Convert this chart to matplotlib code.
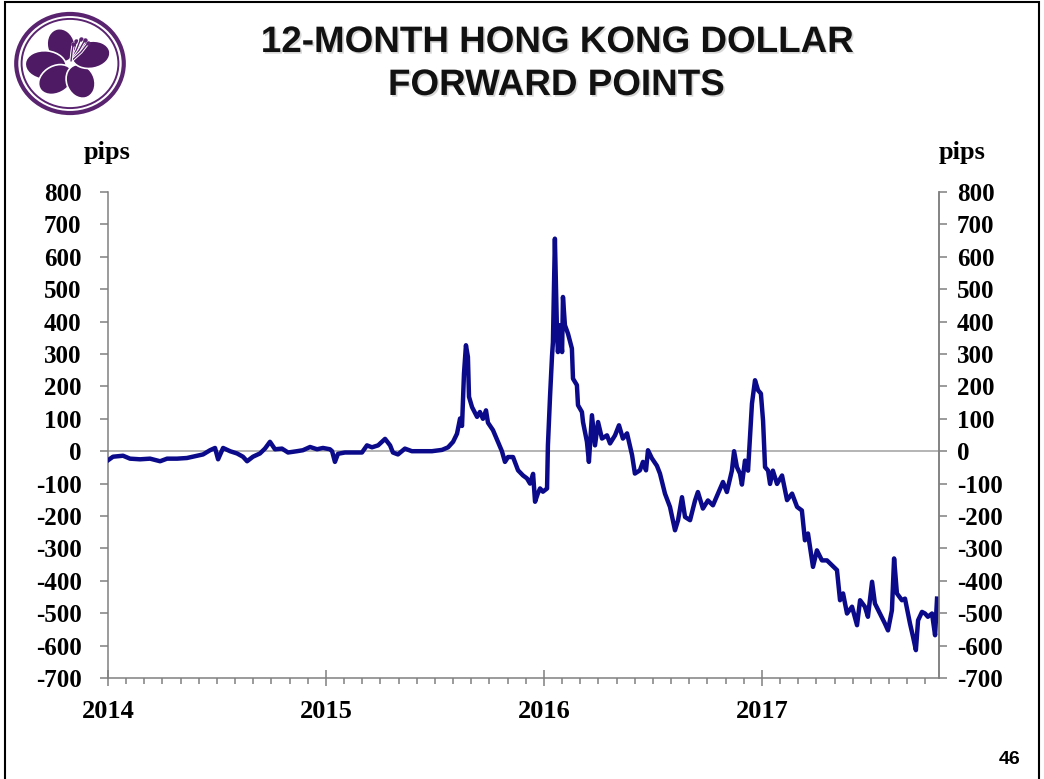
import numpy as np
import matplotlib
matplotlib.use("Agg")
import matplotlib.pyplot as plt
from matplotlib.patches import Ellipse, Circle, Rectangle
import matplotlib.patheffects as pe

# 12-month HKD forward points (decimal year, pips)
years = [
    2014.000, 2014.023, 2014.069, 2014.101, 2014.147, 2014.193, 2014.239, 2014.271,
    2014.317, 2014.362, 2014.408, 2014.436, 2014.468, 2014.491, 2014.505, 2014.528,
    2014.560, 2014.592, 2014.619, 2014.638, 2014.665, 2014.697, 2014.720, 2014.743,
    2014.766, 2014.798, 2014.826, 2014.867, 2014.894, 2014.927, 2014.959, 2014.986,
    2015.018, 2015.028, 2015.041, 2015.055, 2015.087, 2015.119, 2015.165, 2015.188,
    2015.211, 2015.239, 2015.271, 2015.294, 2015.307, 2015.330, 2015.362, 2015.394,
    2015.440, 2015.486, 2015.532, 2015.560, 2015.583, 2015.601, 2015.615, 2015.624,
    2015.633, 2015.642, 2015.651, 2015.656, 2015.670, 2015.693, 2015.706, 2015.720,
    2015.734, 2015.743, 2015.766, 2015.789, 2015.807, 2015.821, 2015.835, 2015.858,
    2015.881, 2015.904, 2015.922, 2015.936, 2015.950, 2015.959, 2015.972, 2015.982,
    2015.995, 2016.014, 2016.018, 2016.028, 2016.037, 2016.041, 2016.050, 2016.060,
    2016.064, 2016.073, 2016.083, 2016.087, 2016.096, 2016.110, 2016.128, 2016.133,
    2016.151, 2016.156, 2016.174, 2016.179, 2016.197, 2016.206, 2016.220, 2016.234,
    2016.248, 2016.266, 2016.289, 2016.303, 2016.326, 2016.344, 2016.362, 2016.381,
    2016.404, 2016.417, 2016.440, 2016.454, 2016.468, 2016.477, 2016.495, 2016.518,
    2016.532, 2016.555, 2016.578, 2016.601, 2016.615, 2016.633, 2016.647, 2016.670,
    2016.693, 2016.706, 2016.729, 2016.752, 2016.775, 2016.798, 2016.821, 2016.839,
    2016.862, 2016.872, 2016.885, 2016.899, 2016.908, 2016.922, 2016.936, 2016.945,
    2016.954, 2016.968, 2016.982, 2016.995, 2017.005, 2017.014, 2017.028, 2017.037,
    2017.050, 2017.069, 2017.092, 2017.115, 2017.138, 2017.161, 2017.183, 2017.197,
    2017.211, 2017.234, 2017.252, 2017.275, 2017.298, 2017.321, 2017.344, 2017.358,
    2017.372, 2017.390, 2017.413, 2017.436, 2017.450, 2017.472, 2017.486, 2017.505,
    2017.518, 2017.541, 2017.564, 2017.578, 2017.596, 2017.606, 2017.619, 2017.642,
    2017.656, 2017.679, 2017.693, 2017.706, 2017.716, 2017.734, 2017.748, 2017.761,
    2017.780, 2017.794, 2017.803,
]
pips = [
    -28, -17, -14, -23, -25, -23, -31, -23,
    -23, -21, -14, -10, 3, 10, -25, 10,
    0, -7, -17, -31, -17, -7, 8, 29,
    6, 8, -4, 0, 3, 13, 6, 10,
    6, 0, -33, -8, -4, -4, -4, 18,
    12, 18, 38, 18, -4, -10, 8, 0,
    0, 0, 4, 12, 29, 54, 101, 78,
    240, 327, 291, 168, 136, 106, 121, 100,
    126, 88, 65, 29, 0, -33, -18, -18,
    -59, -75, -84, -100, -70, -156, -130, -115,
    -125, -115, 18, 173, 296, 336, 656, 358,
    306, 389, 306, 476, 389, 363, 317, 224,
    204, 142, 121, 90, 29, -33, 111, 18,
    90, 39, 49, 24, 49, 80, 39, 55,
    -12, -69, -59, -33, -59, 3, -22, -45,
    -69, -131, -172, -244, -213, -142, -203, -213,
    -152, -126, -177, -152, -167, -131, -95, -126,
    -60, 0, -49, -69, -103, -29, -60, 44,
    147, 219, 188, 178, 93, -49, -60, -101,
    -60, -101, -75, -151, -131, -172, -183, -275,
    -254, -357, -306, -337, -337, -352, -367, -460,
    -439, -501, -480, -537, -460, -480, -511, -403,
    -470, -501, -532, -553, -491, -331, -439, -460,
    -455, -532, -573, -614, -522, -496, -501, -511,
    -501, -568, -455,
]

year_ticks = [2014, 2015, 2016, 2017]
year_labels = ["2014", "2015", "2016", "2017"]
pip_ticks = list(range(-700, 801, 100))
pip_labels = [str(v) for v in pip_ticks]

W, H = 1044, 779
SERIF = "Liberation Serif"
SANS = "Liberation Sans"
GREY = "#808080"
NAVY = "#0A0A8A"
PURPLE = "#5A2370"


def px(x0, y0, x1, y1):
    # pixel box (top-left origin) -> figure rect
    return [x0 / W, 1 - y1 / H, (x1 - x0) / W, (y1 - y0) / H]


fig = plt.figure(figsize=(W / 100, H / 100), dpi=100)

# slide frame
fig.patches.append(Rectangle((5 / W, -0.01), 1034 / W, 1.0 - 2 / H + 0.01,
                             transform=fig.transFigure, fill=False,
                             edgecolor="black", lw=1.5))

# --- main chart ---
ax = fig.add_axes(px(108, 192, 939, 678))
ax.plot(years, pips, color=NAVY, lw=3.2, solid_joinstyle="round", zorder=3)
ax.axhline(0, color="#a0a0a0", lw=1.1, zorder=2)
ax.set_xlim(2014, 2017.812)
ax.set_ylim(-700, 800)

ax.set_xticks(year_ticks)
ax.set_xticklabels(year_labels, fontfamily=SERIF, fontweight="bold", fontsize=19)
months = [y + m / 12 for y in year_ticks for m in range(1, 12) if y + m / 12 < 2017.8]
ax.set_xticks(months, minor=True)
ax.tick_params(axis="x", which="major", direction="inout", length=12, width=1.1,
               color=GREY, pad=10)
ax.tick_params(axis="x", which="minor", direction="out", length=4.5, width=1.1,
               color=GREY)

ax.set_yticks(pip_ticks)
ax.set_yticklabels(pip_labels, fontfamily=SERIF, fontweight="bold", fontsize=18)
ax.tick_params(axis="y", direction="out", length=6, width=1.1, color=GREY, pad=13)

ax2 = ax.twinx()
ax2.set_ylim(-700, 800)
ax2.set_yticks(pip_ticks)
ax2.set_yticklabels(pip_labels, fontfamily=SERIF, fontweight="bold", fontsize=18)
ax2.tick_params(axis="y", direction="out", length=6, width=1.1, color=GREY, pad=7)

for a in (ax, ax2):
    for side, sp in a.spines.items():
        sp.set_color(GREY)
        sp.set_linewidth(1.1)
    a.spines["top"].set_visible(False)
ax2.spines["left"].set_visible(False)
ax2.spines["bottom"].set_visible(False)

fig.text(107 / W, 1 - 152 / H, "pips", ha="center", va="center",
         fontfamily=SERIF, fontweight="bold", fontsize=19)
fig.text(962 / W, 1 - 152 / H, "pips", ha="center", va="center",
         fontfamily=SERIF, fontweight="bold", fontsize=19)

# --- title ---
shadow = [pe.SimplePatchShadow(offset=(1.2, -1.2), shadow_rgbFace="#b0b0b0", alpha=0.5),
          pe.Normal()]
fig.text(557 / W, 1 - 52 / H, "12-MONTH HONG KONG DOLLAR", ha="center", va="baseline",
         fontfamily=SANS, fontweight="bold", fontsize=26.5, color="#111111",
         path_effects=shadow)
fig.text(556 / W, 1 - 95 / H, "FORWARD POINTS", ha="center", va="baseline",
         fontfamily=SANS, fontweight="bold", fontsize=26.5, color="#111111",
         path_effects=shadow)

fig.text(1010 / W, 1 - 760 / H, "46", ha="center", va="center",
         fontfamily=SANS, fontweight="bold", fontsize=14)

# --- logo (bauhinia in a double ring) ---
lg = fig.add_axes(px(13, 11, 127, 116))
lg.set_xlim(-1.06, 1.06)
lg.set_ylim(-1.06, 1.06)
lg.axis("off")
lg.add_patch(Circle((0, 0), 1.0, fill=False, edgecolor=PURPLE, lw=3.0))
lg.add_patch(Circle((0, 0), 0.9, fill=False, edgecolor=PURPLE, lw=1.4))
petal_tips = [(-0.14, 0.70), (-0.80, 0.10), (-0.58, -0.46), (0.20, -0.70), (0.74, 0.16)]
for tx, ty in petal_tips:
    ang = np.degrees(np.arctan2(ty, tx))
    L = np.hypot(tx, ty)
    nx, ny = -ty / L, tx / L
    cx, cy = 0.55 * tx + 0.09 * nx, 0.55 * ty + 0.09 * ny
    lg.add_patch(Ellipse((cx, cy), L * 0.95, L * 0.72, angle=ang,
                         facecolor="#4E1A64", edgecolor="white", lw=1.2))
for sx, sy in [(0.12, 0.46), (0.2, 0.5), (0.28, 0.48), (0.34, 0.42), (0.06, 0.40)]:
    lg.plot([0.02, sx * 0.6, sx], [0.05, sy * 0.55, sy], color="white", lw=2.4,
            solid_capstyle="round")
    lg.plot([0.02, sx * 0.6, sx], [0.05, sy * 0.55, sy], color=PURPLE, lw=1.0,
            solid_capstyle="round")
    lg.plot([sx], [sy], marker="o", ms=2.2, color=PURPLE)

fig.savefig("out.png", dpi=100)
